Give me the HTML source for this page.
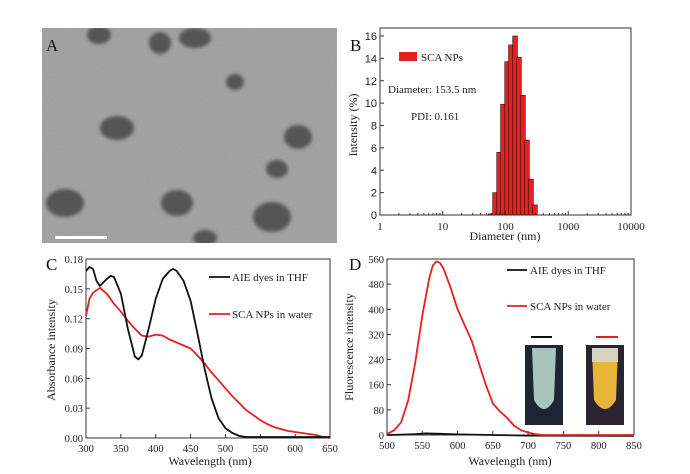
<!DOCTYPE html>
<html><head><meta charset="utf-8">
<style>
html,body{margin:0;padding:0;background:#fff;}
svg{display:block;font-family:"Liberation Serif",serif;}
</style></head>
<body>
<svg id="fig" width="690" height="474" viewBox="0 0 690 474" xmlns="http://www.w3.org/2000/svg">
<defs>
<filter id="noise" x="0" y="0" width="1" height="1"><feTurbulence type="fractalNoise" baseFrequency="0.9" numOctaves="2" seed="3"/><feColorMatrix type="matrix" values="0 0 0 0 0.6  0 0 0 0 0.6  0 0 0 0 0.6  0 0 0 0.3 0"/></filter>
<filter id="blur"><feGaussianBlur stdDeviation="1.8"/></filter>
<clipPath id="clipA"><rect x="42" y="28" width="295" height="215"/></clipPath>
</defs>
<!-- Panel A -->
<g clip-path="url(#clipA)">
<rect x="42" y="28" width="295" height="215" fill="#9a9a9a"/>
<rect x="42" y="28" width="295" height="215" fill="#000" filter="url(#noise)"/>
<g id="blobs" filter="url(#blur)" fill="#555"></g>
<rect x="55" y="236" width="52" height="3" fill="#fff"/>
<text x="46" y="51" font-size="17" fill="#111">A</text>
</g>
<g id="pB"></g>
<g id="pC"></g>
<g id="pD"></g>
</svg>
<script>
// ---- Panel B data ----
const bDiam = [58, 68, 79, 91, 106, 122, 142, 164, 190, 220, 255, 295, 342];
const bIntensity = [0.1, 2.0, 5.6, 9.9, 13.7, 15.2, 16.0, 14.1, 10.7, 6.7, 3.2, 0.9, 0];
const bYTicks = [0,2,4,6,8,10,12,14,16];
const bXTicks = [1,10,100,1000,10000];
// ---- Panel C data ----
const cWave = [300,305,310,315,320,330,335,340,350,360,370,375,380,390,400,410,420,425,430,440,450,460,470,480,490,500,510,520,530,650];
const cTHF = [0.168,0.172,0.170,0.158,0.153,0.160,0.163,0.162,0.145,0.110,0.082,0.079,0.083,0.110,0.140,0.160,0.168,0.170,0.168,0.158,0.138,0.105,0.070,0.040,0.020,0.010,0.005,0.002,0.001,0.001];
const cWaveR = [300,305,310,320,330,340,350,360,370,380,390,400,410,420,430,440,450,460,470,480,490,500,510,520,530,540,550,560,570,580,590,600,610,620,630,640,650];
const cWater = [0.123,0.140,0.146,0.151,0.145,0.135,0.127,0.118,0.110,0.103,0.102,0.104,0.103,0.099,0.096,0.093,0.090,0.083,0.075,0.066,0.058,0.050,0.042,0.035,0.028,0.023,0.018,0.014,0.011,0.009,0.007,0.006,0.005,0.004,0.003,0.001,0.000];
const cYTicks = [0,0.03,0.06,0.09,0.12,0.15,0.18];
const cXTicks = [300,350,400,450,500,550,600,650];
// ---- Panel D data ----
const dWave = [500,510,520,530,540,550,560,565,570,575,580,590,600,610,620,630,640,650,660,670,680,690,700,710,720,850];
const dWater = [3,15,40,110,230,380,500,540,552,548,530,470,400,350,300,230,160,100,75,55,30,15,8,3,0,0];
const dWaveB = [500,520,540,555,570,600,650,700,850];
const dTHF = [0,1,3,5,4,2,0,-2,-3];
const dYTicks = [0,80,160,240,320,400,480,560];
const dXTicks = [500,550,600,650,700,750,800,850];

const NS="http://www.w3.org/2000/svg";
function mk(parent,tag,attrs,text){const e=document.createElementNS(NS,tag);for(const k in attrs)e.setAttribute(k,attrs[k]);if(text!==undefined)e.textContent=text;parent.appendChild(e);return e;}

const blobs=[[99,35,12,9],[160,43,11,11],[195,38,16,10],[235,82,9,8],[117,128,17,12],[298,137,14,12],[277,169,11,9],[65,203,19,14],[177,203,16,13],[272,217,19,15],[205,238,12,8]];
const bg=document.getElementById('blobs');
blobs.forEach(b=>{const e=mk(bg,'ellipse',{cx:b[0],cy:b[1],rx:b[2],ry:b[3]});

});

function axesBox(g,L,T,R,B){const r=mk(g,'rect',{x:L,y:T,width:R-L,height:B-T,fill:'none',stroke:'#333','stroke-width':1});

}

// ---- Panel B ----
(function(){
const g=document.getElementById('pB');
const L=380,R=631,T=28,B=215;
const x=v=>L+(Math.log10(v))*(R-L)/4;
const y=v=>B-v*(B-36)/16;
axesBox(g,L,T,R,B);
const w=0.075*(R-L)/4;
bDiam.forEach((d,i)=>{const h=bIntensity[i];if(h<=0)return;
const e=mk(g,'rect',{x:x(d)-w/2,y:y(h),width:w,height:B-y(h),fill:'#e3211f',stroke:'#3a1010','stroke-width':0.6});

});
bYTicks.forEach(t=>{mk(g,'line',{x1:L,x2:L+4,y1:y(t),y2:y(t),stroke:'#333'});
const e=mk(g,'text',{x:L-3,y:y(t)+4,'font-size':11,'text-anchor':'end',fill:'#222',"font-family":"Liberation Sans"},t);

});
bXTicks.forEach(t=>{mk(g,'line',{x1:x(t),x2:x(t),y1:B,y2:B-4,stroke:'#333'});
for(let k=2;k<10&&t<10000;k++)mk(g,'line',{x1:x(t*k),x2:x(t*k),y1:B,y2:B-2,stroke:'#333'});
const e=mk(g,'text',{x:x(t),y:B+15,'font-size':11,'text-anchor':'middle',fill:'#222'},t);

});
let e=mk(g,'text',{x:505,y:240,'font-size':12,'text-anchor':'middle',fill:'#222'},'Diameter (nm)');

e=mk(g,'text',{x:0,y:0,'font-size':12,'text-anchor':'middle',fill:'#222',transform:'translate(357,125) rotate(-90)'},'Intensity (%)');

e=mk(g,'text',{x:350,y:51,'font-size':17,fill:'#111'},'B');

e=mk(g,'rect',{x:399,y:52,width:18,height:9,fill:'#e3211f'});

e=mk(g,'text',{x:421,y:61,'font-size':11,fill:'#222'},'SCA NPs');

e=mk(g,'text',{x:388,y:93,'font-size':11,fill:'#222'},'Diameter: 153.5 nm');

e=mk(g,'text',{x:411,y:120,'font-size':11,fill:'#222'},'PDI: 0.161');

})();

function linePlot(g,xs,ys,x,y,color,name){
const d=xs.map((v,i)=>(i?'L':'M')+x(v).toFixed(1)+','+y(ys[i]).toFixed(1)).join(' ');
const e=mk(g,'path',{d:d,fill:'none',stroke:color,'stroke-width':1.8,'stroke-linejoin':'round'});

}

// ---- Panel C ----
(function(){
const g=document.getElementById('pC');
const L=86,R=330,T=259,B=438;
const x=v=>L+(v-300)*(R-L)/350;
const y=v=>B-v*(B-T)/0.18;
axesBox(g,L,T,R,B);
cYTicks.forEach(t=>{mk(g,'line',{x1:L,x2:L+4,y1:y(t),y2:y(t),stroke:'#333'});
const e=mk(g,'text',{x:L-3,y:y(t)+4,'font-size':10.5,'text-anchor':'end',fill:'#222'},t.toFixed(2));

});
cXTicks.forEach(t=>{mk(g,'line',{x1:x(t),x2:x(t),y1:B,y2:B-4,stroke:'#333'});
const e=mk(g,'text',{x:x(t),y:B+14,'font-size':10.5,'text-anchor':'middle',fill:'#222'},t);

});
linePlot(g,cWaveR,cWater,x,y,'#e3211f','series-sca-nps-water');
linePlot(g,cWave,cTHF,x,y,'#111','series-aie-dyes-thf');
let e=mk(g,'text',{x:210,y:465,'font-size':12,'text-anchor':'middle',fill:'#222'},'Wavelength (nm)');

e=mk(g,'text',{x:0,y:0,'font-size':12,'text-anchor':'middle',fill:'#222',transform:'translate(55,350) rotate(-90)'},'Absorbance intensity');

e=mk(g,'text',{x:46,y:270,'font-size':17,fill:'#111'},'C');

mk(g,'line',{x1:209,x2:230,y1:277,y2:277,stroke:'#111','stroke-width':1.8});
e=mk(g,'text',{x:232,y:281,'font-size':11,fill:'#222'},'AIE dyes in THF');

mk(g,'line',{x1:209,x2:230,y1:314,y2:314,stroke:'#e3211f','stroke-width':1.8});
e=mk(g,'text',{x:232,y:318,'font-size':11,fill:'#222'},'SCA NPs in water');

})();

// ---- Panel D ----
(function(){
const g=document.getElementById('pD');
const L=387,R=634,T=259,B=435;
const x=v=>L+(v-500)*(R-L)/350;
const y=v=>B-v*(B-T)/560;
axesBox(g,L,T,R,B);
dYTicks.forEach(t=>{mk(g,'line',{x1:L,x2:L+4,y1:y(t),y2:y(t),stroke:'#333'});
const e=mk(g,'text',{x:L-3,y:y(t)+4,'font-size':10.5,'text-anchor':'end',fill:'#222'},t);

});
dXTicks.forEach(t=>{mk(g,'line',{x1:x(t),x2:x(t),y1:B,y2:B-4,stroke:'#333'});
const e=mk(g,'text',{x:x(t),y:B+14,'font-size':10.5,'text-anchor':'middle',fill:'#222'},t);

});
let e=mk(g,'rect',{x:525,y:345,width:38,height:80,fill:'#1e2430'});

mk(g,'path',{d:'M532,348 L556,348 L554,400 Q544,418 534,400 Z',fill:'#a9c4bf'});
e=mk(g,'rect',{x:586,y:345,width:38,height:80,fill:'#2a2430'});

mk(g,'path',{d:'M592,348 L618,348 L616,400 Q605,418 594,400 Z',fill:'#e9b43a'});
mk(g,'rect',{x:592,y:348,width:26,height:14,fill:'#d8d2c0'});
mk(g,'line',{x1:531,x2:552,y1:337,y2:337,stroke:'#111','stroke-width':2});
mk(g,'line',{x1:596,x2:618,y1:337,y2:337,stroke:'#e3211f','stroke-width':2});
linePlot(g,dWaveB,dTHF,x,y,'#111','series-aie-dyes-thf');
linePlot(g,dWave,dWater,x,y,'#e3211f','series-sca-nps-water');
e=mk(g,'text',{x:510,y:465,'font-size':12,'text-anchor':'middle',fill:'#222'},'Wavelength (nm)');

e=mk(g,'text',{x:0,y:0,'font-size':12,'text-anchor':'middle',fill:'#222',transform:'translate(353,347) rotate(-90)'},'Fluorescence intensity');

e=mk(g,'text',{x:349,y:270,'font-size':17,fill:'#111'},'D');

mk(g,'line',{x1:507,x2:527,y1:270,y2:270,stroke:'#111','stroke-width':1.8});
e=mk(g,'text',{x:530,y:274,'font-size':11,fill:'#222'},'AIE dyes in THF');

mk(g,'line',{x1:507,x2:527,y1:306,y2:306,stroke:'#e3211f','stroke-width':1.8});
e=mk(g,'text',{x:530,y:310,'font-size':11,fill:'#222'},'SCA NPs in water');

})();
</script>
</body></html>
